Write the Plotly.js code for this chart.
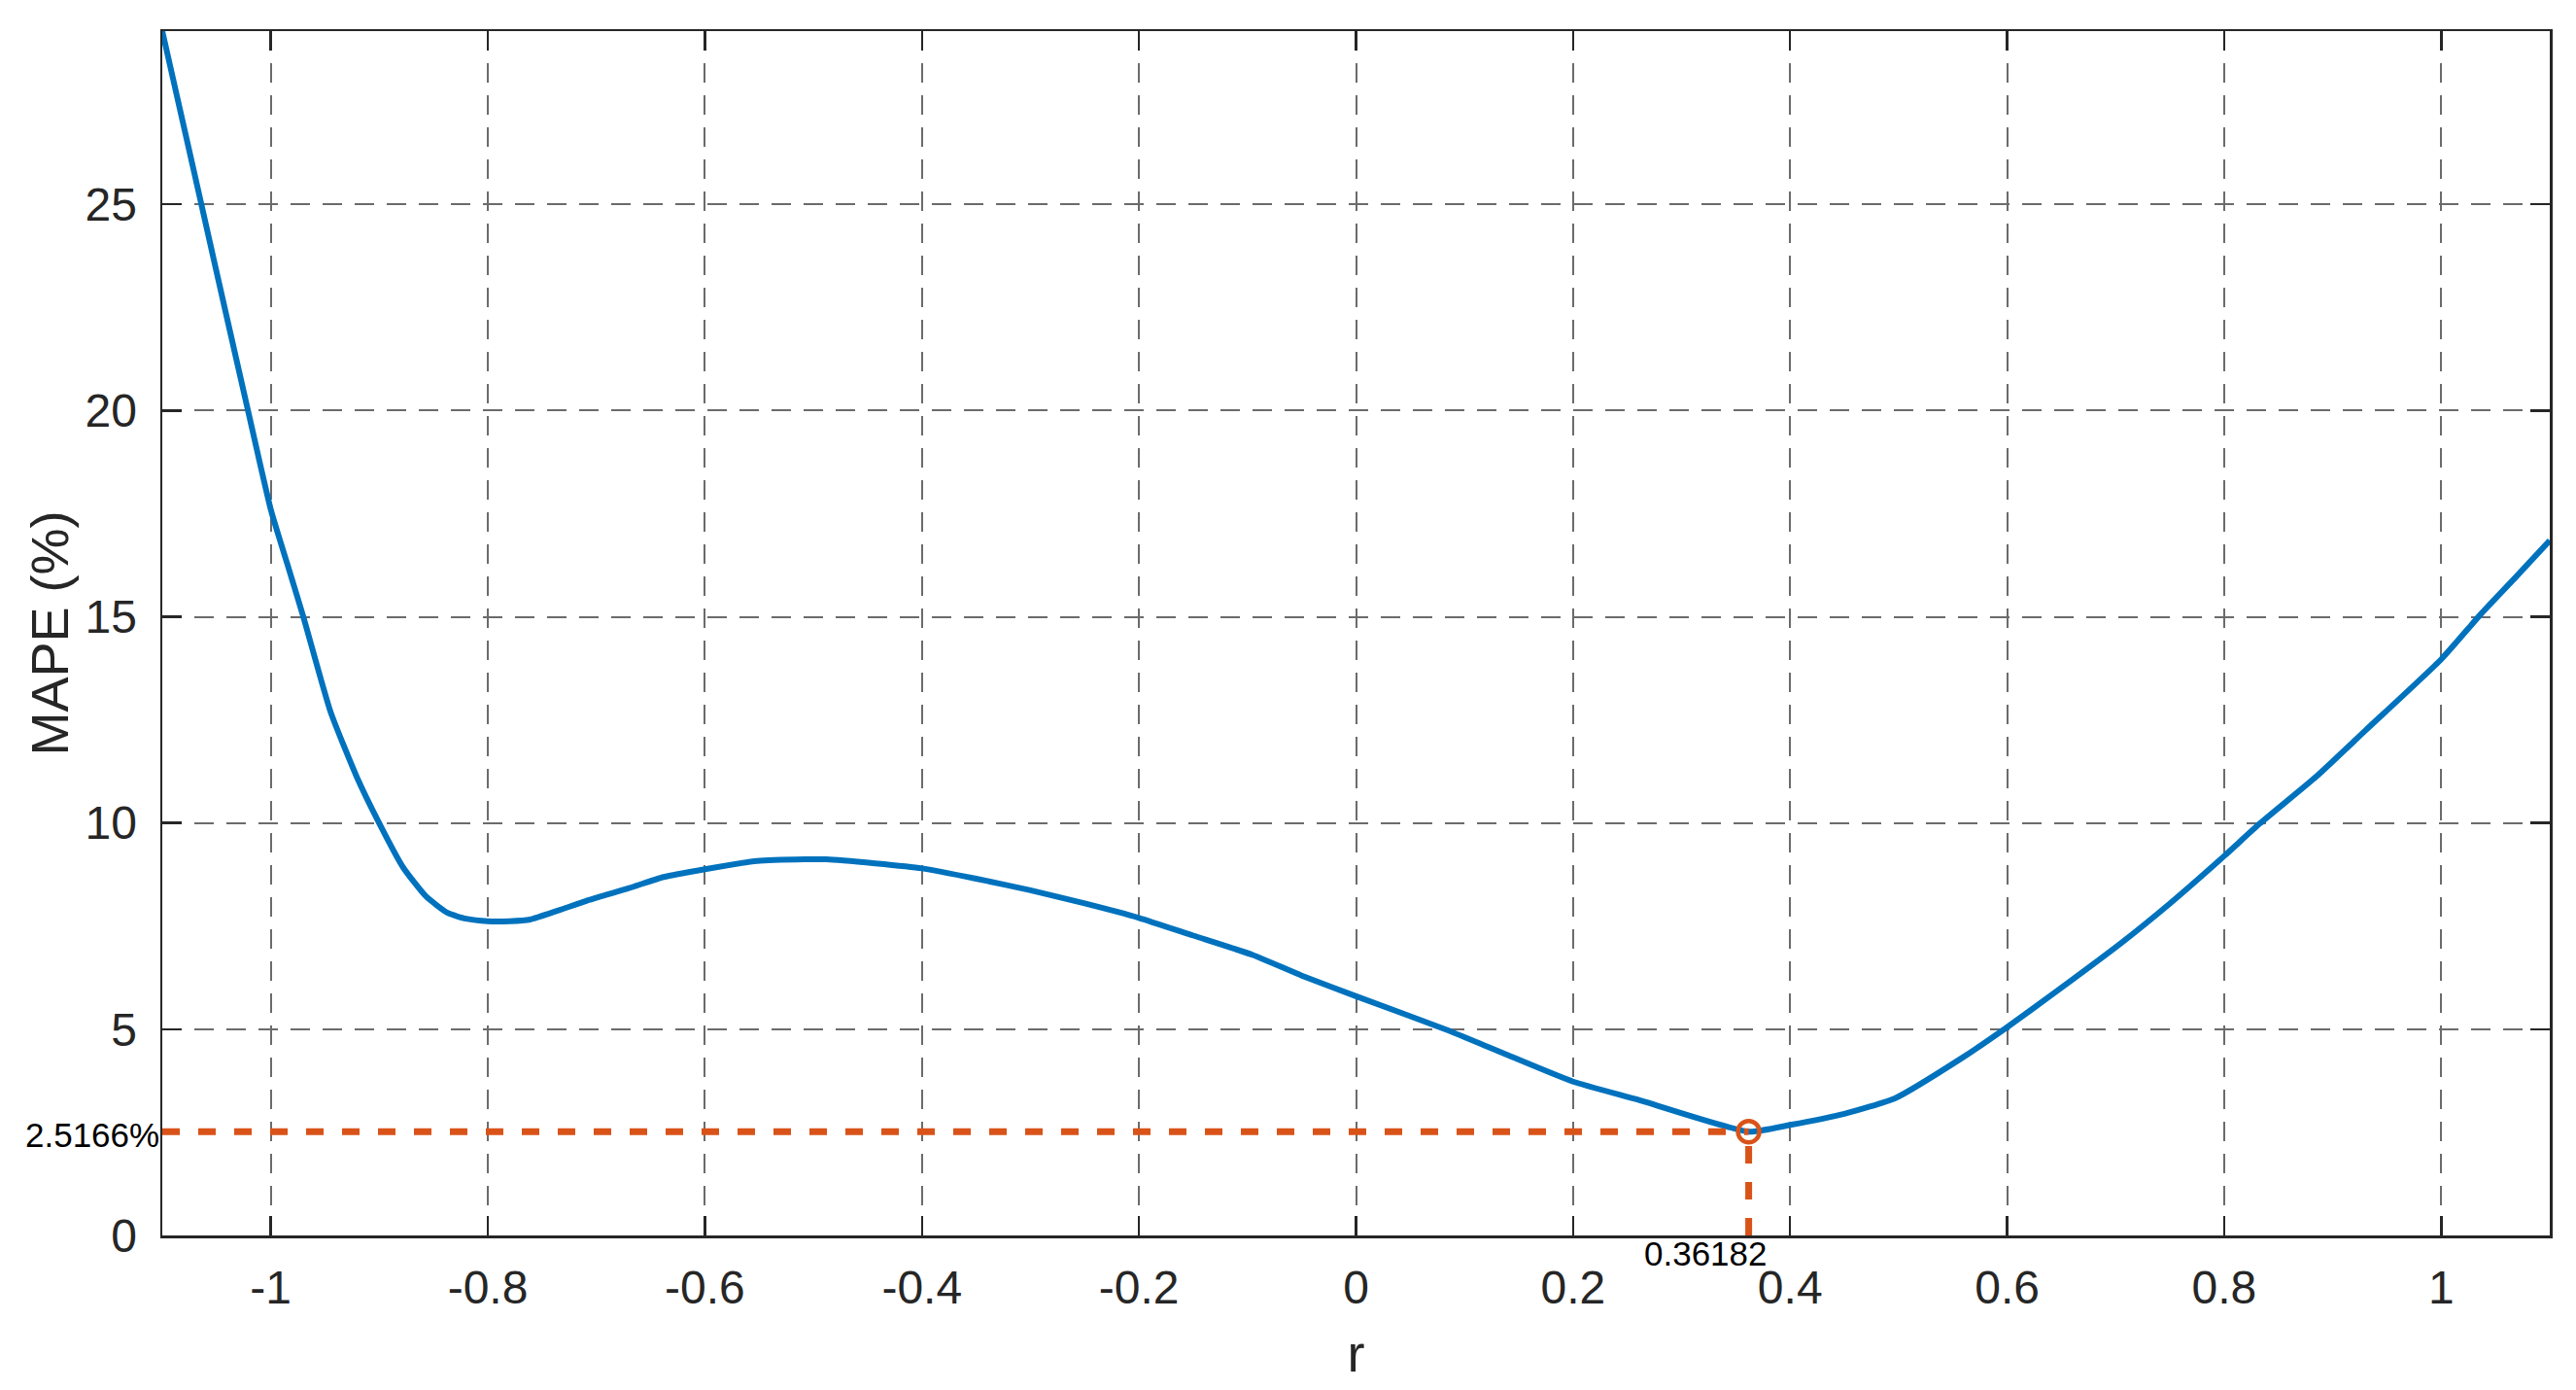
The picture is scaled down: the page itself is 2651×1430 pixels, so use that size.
<!DOCTYPE html>
<html>
<head>
<meta charset="utf-8">
<script src="https://cdn.plot.ly/plotly-3.0.1.min.js"></script>
<style>
  html, body { margin: 0; padding: 0; background: #ffffff; }
  #chart { width: 2651px; height: 1430px; }
</style>
</head>
<body>
<div id="chart"></div>
<script>
// Correlation coefficient r and the resulting MAPE (%)
const rValues = [-1.10, -1.08, -1.064, -1.04, -1.021, -1.00, -0.985, -0.970, -0.945, -0.921,
  -0.900, -0.878, -0.857, -0.837, -0.82, -0.80, -0.78, -0.761, -0.735, -0.706,
  -0.67, -0.638, -0.60, -0.552, -0.508, -0.488, -0.443, -0.40, -0.35, -0.30,
  -0.25, -0.20, -0.15, -0.095, -0.05, 0.0, 0.083, 0.14, 0.20, 0.26,
  0.36182, 0.40, 0.45, 0.497, 0.557, 0.60, 0.646, 0.706, 0.75, 0.80,
  0.833, 0.885, 0.93, 1.00, 1.037, 1.07, 1.10];
const mapeValues = [29.20, 26.87, 25.00, 22.20, 20.00, 17.60, 16.30, 15.00, 12.70, 11.13,
  9.99, 8.92, 8.22, 7.82, 7.68, 7.62, 7.62, 7.66, 7.88, 8.14,
  8.42, 8.69, 8.88, 9.08, 9.12, 9.12, 9.02, 8.90, 8.65, 8.37,
  8.05, 7.70, 7.27, 6.80, 6.30, 5.80, 4.99, 4.37, 3.73, 3.29,
  2.5166, 2.68, 2.95, 3.33, 4.28, 5.05, 5.93, 7.11, 8.05, 9.20,
  9.99, 11.13, 12.24, 13.97, 15.08, 16.00, 16.85];

// Optimum
const minR = 0.36182;
const minMAPE = 2.5166;
const minRLabel = '0.36182';
const minMAPELabel = '2.5166%';

// Axes
const xRange = [-1.1, 1.1];
const yRange = [0, 29.2];
const xTickVals = [-1, -0.8, -0.6, -0.4, -0.2, 0, 0.2, 0.4, 0.6, 0.8, 1];
const xTickLabels = ['-1', '-0.8', '-0.6', '-0.4', '-0.2', '0', '0.2', '0.4', '0.6', '0.8', '1'];
const yTickVals = [0, 5, 10, 15, 20, 25];
const yTickLabels = ['0', '5', '10', '15', '20', '25'];
const xTitle = 'r';
const yTitle = 'MAPE (%)';

const FONT = 'Liberation Sans, Arial, Helvetica, sans-serif';
const TXT = '#262626';
const BLUE = '#0072BD';
const ORANGE = '#D95319';
const GRID = '#6b6b6b';

const traces = [
  {
    x: rValues, y: mapeValues, type: 'scatter', mode: 'lines',
    line: { color: BLUE, width: 6, shape: 'spline', smoothing: 0.5 },
    hoverinfo: 'x+y', showlegend: false
  },
  {
    x: [xRange[0], minR], y: [minMAPE, minMAPE], type: 'scatter', mode: 'lines',
    line: { color: ORANGE, width: 7, dash: '18px,19px' },
    showlegend: false, hoverinfo: 'skip'
  },
  {
    x: [minR, minR], y: [yRange[0], minMAPE], type: 'scatter', mode: 'lines',
    line: { color: ORANGE, width: 7, dash: '18px,19px' },
    showlegend: false, hoverinfo: 'skip'
  },
  {
    x: [minR], y: [minMAPE], type: 'scatter', mode: 'markers',
    marker: { symbol: 'circle-open', size: 22, color: ORANGE, line: { color: ORANGE, width: 4.5 } },
    showlegend: false, hoverinfo: 'x+y'
  }
];

const axisCommon = {
  showline: true, linecolor: TXT, linewidth: 2.5, mirror: 'ticks',
  ticks: 'inside', ticklen: 20, tickwidth: 2.5, tickcolor: TXT,
  showgrid: true, gridcolor: GRID, gridwidth: 2, griddash: '20px,13px',
  zeroline: false, tickmode: 'array',
  tickfont: { family: FONT, size: 48, color: TXT },
  automargin: false, fixedrange: true
};

const layout = {
  width: 2651, height: 1430,
  paper_bgcolor: '#ffffff', plot_bgcolor: '#ffffff',
  margin: { l: 167, r: 27, t: 32, b: 159, pad: 0 },
  font: { family: FONT, color: TXT },
  showlegend: false,
  xaxis: Object.assign({}, axisCommon, {
    range: xRange, tickvals: xTickVals, ticktext: xTickLabels,
    ticklabelstandoff: 10,
    title: { text: xTitle, font: { family: FONT, size: 54, color: TXT }, standoff: 23 }
  }),
  yaxis: Object.assign({}, axisCommon, {
    range: yRange, tickvals: yTickVals, ticktext: yTickLabels,
    ticklabelstandoff: 14,
    title: { text: yTitle, font: { family: FONT, size: 54, color: TXT }, standoff: 0 }
  }),
  annotations: [
    {
      text: minMAPELabel, xref: 'paper', x: 0, yref: 'y', y: minMAPE,
      xanchor: 'right', yanchor: 'middle', showarrow: false, xshift: -1, yshift: -3,
      font: { family: FONT, size: 35, color: '#000000' }
    },
    {
      text: minRLabel, xref: 'x', x: minR, yref: 'paper', y: 0,
      xanchor: 'center', yanchor: 'top', showarrow: false, xshift: -44, yshift: 3,
      font: { family: FONT, size: 35, color: '#000000' }
    }
  ]
};

Plotly.newPlot('chart', traces, layout, { displayModeBar: false, staticPlot: true });
</script>
</body>
</html>
